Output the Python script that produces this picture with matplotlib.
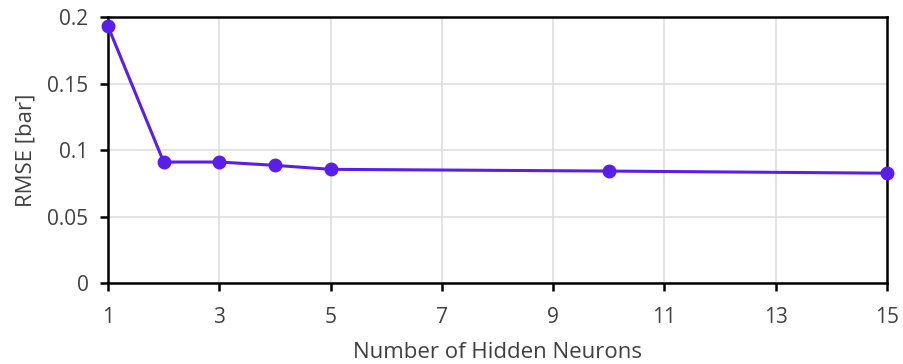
import matplotlib.pyplot as plt

# RMSE versus hidden layer size
neurons = [1, 2, 3, 4, 5, 10, 15]
rmse = [0.193, 0.091, 0.091, 0.0885, 0.0855, 0.0842, 0.0826]
x_ticks = [1, 3, 5, 7, 9, 11, 13, 15]
y_ticks = [0, 0.05, 0.1, 0.15, 0.2]
y_tick_labels = ["0", "0.05", "0.1", "0.15", "0.2"]

plt.rcParams["font.family"] = ["Open Sans", "DejaVu Sans"]
plt.rcParams["font.size"] = 15

fig = plt.figure(figsize=(9.04, 3.64), dpi=100)
fig.patch.set_facecolor("white")
ax = fig.add_axes([0.1195, 0.2225, 0.8615, 0.7305])

colour = "#5A1EEB"
ax.plot(neurons, rmse, color=colour, linewidth=2.2, marker="o", markersize=9,
        clip_on=False, zorder=3)

ax.set_xlim(1, 15)
ax.set_ylim(0, 0.2)
ax.set_xticks(x_ticks)
ax.set_yticks(y_ticks)
ax.set_yticklabels(y_tick_labels)
ax.grid(True, color="#dedede", linewidth=1.2)
ax.set_axisbelow(True)

for side in ["left", "bottom", "top", "right"]:
    ax.spines[side].set_linewidth(1.8)
    ax.spines[side].set_color("black")
ax.tick_params(direction="out", length=6, width=1.8, colors="black",
               labelcolor="#404040", pad=11)
ax.tick_params(axis="y", pad=8)

ax.set_xlabel("Number of Hidden Neurons", color="#404040", fontsize=16,
              labelpad=10)
ax.set_ylabel("RMSE [bar]", color="#404040", fontsize=16, labelpad=8)

plt.savefig("out.png", dpi=100)
